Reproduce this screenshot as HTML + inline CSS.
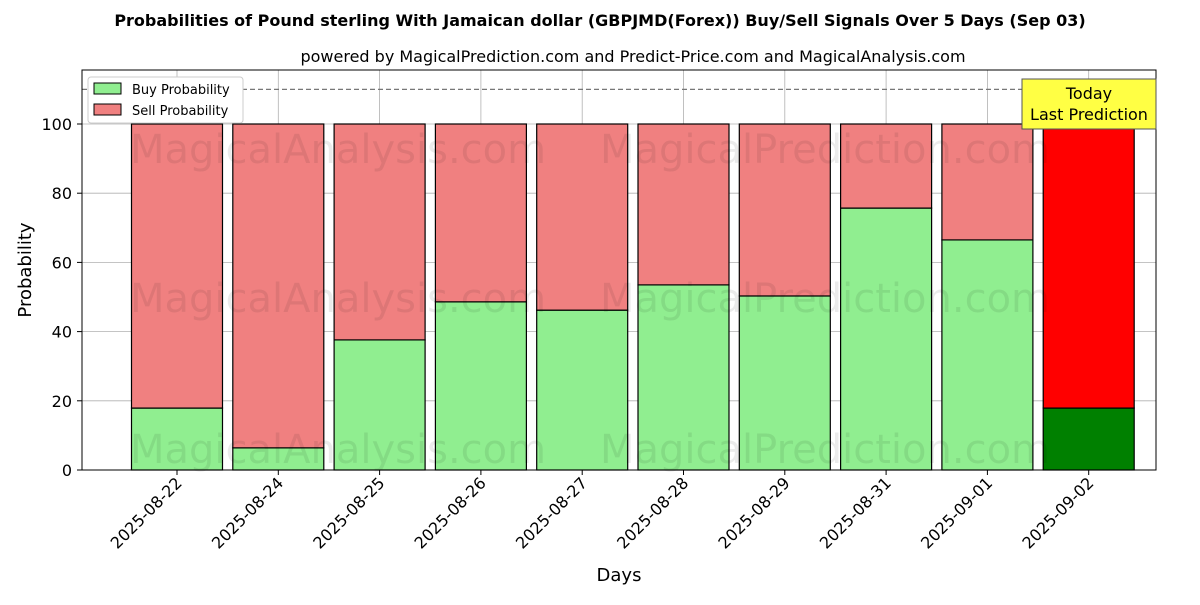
<!DOCTYPE html>
<html><head><meta charset="utf-8"><style>
body{margin:0;background:#fff;font-family:"Liberation Sans","DejaVu Sans",sans-serif}
</style></head><body>
<svg id="chart" width="1200" height="600" xmlns="http://www.w3.org/2000/svg" font-family="DejaVu Sans, Liberation Sans, sans-serif">
<rect width="1200" height="600" fill="#fff"/>
<text x="600" y="26" text-anchor="middle" font-size="16" font-weight="bold">Probabilities of Pound sterling With Jamaican dollar (GBPJMD(Forex)) Buy/Sell Signals Over 5 Days (Sep 03)</text>
<text x="633" y="62" text-anchor="middle" font-size="16">powered by MagicalPrediction.com and Predict-Price.com and MagicalAnalysis.com</text>
<g id="grid"></g>
<g id="bars"></g>
<g id="wm" fill="#000" fill-opacity="0.08" font-size="40">
<text x="130" y="163">MagicalAnalysis.com</text>
<text x="600" y="163">MagicalPrediction.com</text>
<text x="130" y="312">MagicalAnalysis.com</text>
<text x="600" y="312">MagicalPrediction.com</text>
<text x="130" y="463">MagicalAnalysis.com</text>
<text x="600" y="463">MagicalPrediction.com</text>
</g>
<line x1="82" x2="1156" y1="89.4" y2="89.4" stroke="#777" stroke-width="1.2" stroke-dasharray="5,3"/>
<rect x="82" y="70" width="1074" height="400" fill="none" stroke="#000" stroke-width="1"/>
<g id="axes" font-size="16"></g>
<text x="31" y="270" transform="rotate(-90 31 270)" text-anchor="middle" font-size="18">Probability</text>
<text x="619" y="581" text-anchor="middle" font-size="18">Days</text>
<g>
<rect x="88" y="77" width="155" height="46" fill="#fff" stroke="#ccc" rx="3"/>
<rect x="94" y="83" width="27" height="11" fill="#90ee90" stroke="#000"/>
<text x="132" y="94" font-size="13">Buy Probability</text>
<rect x="94" y="104" width="27" height="11" fill="#f08080" stroke="#000"/>
<text x="132" y="115" font-size="13">Sell Probability</text>
</g>
<g>
<rect x="1022" y="79" width="134" height="50" fill="#ffff44" stroke="#555"/>
<text x="1089" y="99" text-anchor="middle" font-size="16">Today</text>
<text x="1089" y="120" text-anchor="middle" font-size="16">Last Prediction</text>
</g>
</svg>
<script>
const categories=["2025-08-22","2025-08-24","2025-08-25","2025-08-26","2025-08-27","2025-08-28","2025-08-29","2025-08-31","2025-09-01","2025-09-02"];
const buyValues=[17.9,6.4,37.6,48.6,46.2,53.5,50.3,75.7,66.5,17.9];
const sellValues=[82.1,93.6,62.4,51.4,53.8,46.5,49.7,24.3,33.5,82.1];
const yTicks=[0,20,40,60,80,100];
const NS="http://www.w3.org/2000/svg";
const y=v=>470-v*3.46;
const x=i=>177+i*101.3;
const bw=91;
function mk(t,a,p){const e=document.createElementNS(NS,t);for(const k in a)e.setAttribute(k,a[k]);p.appendChild(e);return e;}
const grid=document.getElementById('grid'),bars=document.getElementById('bars'),axes=document.getElementById('axes');
yTicks.forEach(t=>{
const g=mk('line',{x1:82,x2:1156,y1:y(t),y2:y(t),stroke:'#b0b0b0','stroke-width':0.8},grid);


const tk=mk('line',{x1:77,x2:82,y1:y(t),y2:y(t),stroke:'#000'},axes);


const l=mk('text',{x:72,y:y(t)+6,'text-anchor':'end'},axes);l.textContent=t;


});
categories.forEach((c,i)=>{
const g=mk('line',{x1:x(i),x2:x(i),y1:70,y2:470,stroke:'#b0b0b0','stroke-width':0.8},grid);


const last=i===categories.length-1;
const b=mk('rect',{x:x(i)-bw/2,y:y(buyValues[i]),width:bw,height:y(0)-y(buyValues[i]),fill:last?'#008000':'#90ee90',stroke:'#000','stroke-width':1.2},bars);


const s=mk('rect',{x:x(i)-bw/2,y:y(buyValues[i]+sellValues[i]),width:bw,height:y(buyValues[i])-y(buyValues[i]+sellValues[i]),fill:last?'#ff0000':'#f08080',stroke:'#000','stroke-width':1.2},bars);


const tk=mk('line',{x1:x(i),x2:x(i),y1:470,y2:475,stroke:'#000'},axes);


const l=mk('text',{x:x(i)+6,y:484,'text-anchor':'end',transform:`rotate(-45 ${x(i)+6} 484)`},axes);l.textContent=c;


});
</script>
</body></html>
